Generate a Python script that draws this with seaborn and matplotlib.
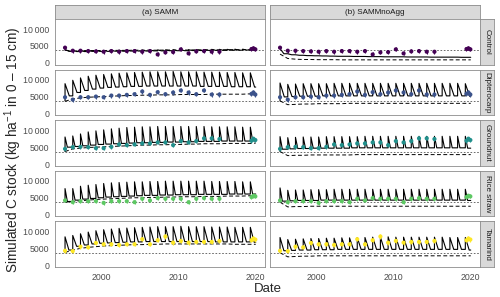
import matplotlib
matplotlib.use('Agg')
import matplotlib.pyplot as plt
import seaborn as sns
import pandas as pd

# Facet labels and colours
treatments = ['Control', 'Dipterocarp', 'Groundnut', 'Rice straw', 'Tamarind']
models = ['(a) SAMM', '(b) SAMMnoAgg']
colors = ['#440154', '#3B528B', '#21908C', '#5DC863', '#FDE725']

# Amendment dates and observation dates
amend_years = list(range(1995, 2020))
obs_years = list(range(1995, 2016))
cluster_dates = [2019.45, 2019.7, 2019.95]
end_date = 2020.0
initial_c = 3700

# Observed C stocks (same for both models)
obs_control = [4500, 3600, 3600, 3500, 3400, 3300, 3500, 3300, 3500, 3500, 3300,
               3500, 2500, 3100, 3200, 4000, 2800, 3400, 3500, 3300, 3300]
obs_dipterocarp = [4800, 4100, 4800, 4800, 5000, 4800, 5300, 5300, 5500, 5700, 6500,
                   5500, 6300, 5700, 6200, 6800, 6200, 5700, 6800, 5600, 5600]
obs_groundnut = [4500, 5000, 5100, 5000, 4700, 4700, 5100, 5800, 5600, 5800, 6100,
                 6100, 6400, 6400, 5600, 6800, 6400, 6800, 7600, 7600, 7400]
obs_rice = [4200, 3700, 4000, 4000, 4000, 3500, 4000, 4000, 4000, 3700, 4700,
            4200, 4900, 4700, 4700, 4700, 3700, 4700, 4900, 4700, 4700]
obs_tamarind = [4300, 4200, 5500, 5300, 6600, 6200, 6200, 6000, 6200, 6200, 7700,
                6200, 7400, 8500, 6700, 7200, 6700, 6900, 6900, 6900, 7200]
cluster_control = [4100, 4300, 4000]
cluster_dipterocarp = [5800, 6200, 5600]
cluster_groundnut = [6900, 7500, 7100]
cluster_rice = [5200, 5600, 5400]
cluster_tamarind = [7400, 7900, 7600]
obs_err = 600

# SAMM simulations: peaks after amendment, lows before each amendment (+ end), pool (dashed)
samm_control_high = [4000, 3700, 3650, 3650, 3700, 3700, 3700, 3750, 3750, 3800, 3800, 3800, 3850,
                     3850, 3900, 3900, 3900, 3950, 3950, 4000, 4000, 4000, 4050, 4050, 4100]
samm_control_low = [3700, 3400, 3350, 3350, 3400, 3400, 3400, 3450, 3450, 3500, 3500, 3500, 3550,
                    3550, 3600, 3600, 3600, 3650, 3650, 3700, 3700, 3700, 3750, 3750, 3800, 3800]
samm_control_dash = [3700, 3600, 3600, 3650, 3650, 3650, 3700, 3700, 3700, 3750, 3750, 3750, 3750,
                     3800, 3800, 3800, 3800, 3850, 3850, 3850, 3850, 3900, 3900, 3900, 3900, 3950]

samm_dipt_high = [8800, 9800, 10500, 11000, 11300, 11500, 11700, 11900, 12000, 12100, 12200, 12300, 12300,
                  12300, 12400, 12300, 12300, 12300, 12200, 12200, 12200, 12100, 12100, 12000, 12000]
samm_dipt_low = [3700, 5200, 6200, 6800, 7200, 7500, 7700, 7800, 7900, 8000, 8000, 8100, 8100,
                 8100, 8100, 8100, 8100, 8100, 8000, 8000, 8000, 8000, 7900, 7900, 7900, 7800]
samm_dipt_dash = [3600, 4300, 4600, 4800, 4900, 5000, 5100, 5200, 5300, 5300, 5400, 5400, 5500,
                  5500, 5500, 5600, 5600, 5600, 5600, 5700, 5700, 5700, 5700, 5700, 5800, 5800]

samm_gnut_high = [8000, 8300, 8900, 9500, 9800, 10100, 10400, 10600, 10800, 10900, 11000, 11000, 11100,
                  11100, 11100, 11100, 11100, 11100, 11100, 11000, 11000, 11000, 11000, 10900, 10900]
samm_gnut_low = [3700, 5000, 5200, 5400, 5600, 5800, 5900, 6000, 6100, 6200, 6300, 6300, 6400,
                 6400, 6500, 6500, 6600, 6600, 6700, 6700, 6700, 6800, 6800, 6800, 6800, 6900]
samm_gnut_dash = [3700, 4500, 4700, 4900, 5000, 5100, 5200, 5300, 5400, 5500, 5600, 5600, 5700,
                  5700, 5800, 5800, 5900, 5900, 6000, 6000, 6000, 6100, 6100, 6100, 6100, 6200]

samm_rice_high = [7700, 7700, 8400, 8700, 8900, 9200, 9400, 9500, 9600, 9700, 9700, 9800, 9800,
                  9900, 9900, 9900, 9900, 9900, 9900, 9800, 9800, 9800, 9800, 9700, 9700]
samm_rice_low = [3700, 3900, 4300, 4600, 4800, 5000, 5200, 5300, 5400, 5500, 5600, 5700, 5700,
                 5800, 5800, 5900, 5900, 5900, 6000, 6000, 6000, 6000, 6100, 6100, 6100, 6100]
samm_rice_dash = [3700, 3900, 4100, 4300, 4500, 4600, 4700, 4800, 4900, 5000, 5000, 5100, 5100,
                  5200, 5200, 5300, 5300, 5300, 5400, 5400, 5400, 5500, 5500, 5500, 5600, 5600]

samm_tam_high = [8400, 8800, 9300, 9800, 10200, 10500, 10700, 10900, 11000, 11100, 11200, 11300, 11400,
                 11400, 11400, 11500, 11400, 11400, 11400, 11300, 11300, 11300, 11200, 11200, 11200]
samm_tam_low = [3700, 4500, 5600, 6000, 6300, 6500, 6600, 6700, 6800, 6900, 6900, 7000, 7000,
                7000, 7000, 7000, 7000, 7000, 7000, 7000, 6900, 6900, 6900, 6900, 6900, 6800]
samm_tam_dash = [3800, 4500, 5000, 5300, 5500, 5700, 5800, 5900, 6000, 6100, 6100, 6200, 6200,
                 6300, 6300, 6300, 6300, 6300, 6300, 6300, 6300, 6300, 6200, 6200, 6200, 6200]

# SAMMnoAgg simulations
noagg_control_low = [4200, 2700, 2400, 2250, 2150, 2100, 2050, 2000, 1950, 1950, 1900, 1900, 1850,
                     1850, 1800, 1800, 1800, 1750, 1750, 1750, 1700, 1700, 1700, 1700, 1650, 1650]
noagg_control_high = noagg_control_low[:25]
noagg_control_dash = [2600, 1300, 1100, 1000, 1000, 950, 950, 950, 900, 900, 900, 900, 900,
                      900, 900, 900, 900, 900, 900, 900, 900, 900, 900, 900, 900, 900]

noagg_dipt_high = [9000, 8600, 8700, 8800, 8800, 8800, 8800, 8900, 8900, 8900, 8900, 8900, 8900,
                   8900, 8900, 8900, 8900, 8900, 8900, 8900, 8900, 8900, 8900, 8900, 8800]
noagg_dipt_low = [3700, 4900, 5000, 5100, 5100, 5100, 5200, 5200, 5200, 5200, 5200, 5200, 5200,
                  5200, 5200, 5200, 5200, 5200, 5200, 5200, 5200, 5200, 5200, 5200, 5200, 5100]
noagg_dipt_dash = [3700, 2600, 2700, 2800, 2800, 2900, 2900, 2900, 2900, 3000, 3000, 3000, 3000,
                   3000, 3000, 3000, 3000, 3000, 3000, 3000, 3000, 3000, 3000, 3000, 3000, 3000]

noagg_gnut_high = [8100, 7800, 7900, 8000, 8000, 8000, 8100, 8100, 8100, 8100, 8100, 8200, 8200,
                   8200, 8200, 8200, 8200, 8200, 8200, 8200, 8200, 8200, 8200, 8200, 8200]
noagg_gnut_low = [3700, 4400, 4500, 4600, 4600, 4700, 4700, 4700, 4700, 4700, 4800, 4800, 4800,
                  4800, 4800, 4800, 4800, 4800, 4800, 4800, 4800, 4800, 4800, 4800, 4800, 4700]
noagg_gnut_dash = [3700, 2500, 2600, 2600, 2700, 2700, 2700, 2700, 2700, 2700, 2800, 2800, 2800,
                   2800, 2800, 2800, 2800, 2800, 2800, 2800, 2800, 2800, 2800, 2800, 2800, 2800]

noagg_rice_high = [7900, 7200, 7300, 7300, 7400, 7400, 7400, 7500, 7500, 7500, 7500, 7500, 7500,
                   7500, 7500, 7500, 7500, 7500, 7500, 7500, 7500, 7500, 7500, 7500, 7500]
noagg_rice_low = [3700, 4000, 4100, 4200, 4200, 4200, 4300, 4300, 4300, 4300, 4300, 4300, 4300,
                  4300, 4300, 4300, 4300, 4300, 4300, 4300, 4300, 4300, 4300, 4300, 4300, 4200]
noagg_rice_dash = [3700, 2300, 2400, 2400, 2500, 2500, 2500, 2500, 2500, 2500, 2500, 2500, 2500,
                   2500, 2500, 2500, 2500, 2500, 2500, 2500, 2500, 2500, 2500, 2500, 2500, 2500]

noagg_tam_high = [8200, 7600, 7700, 7800, 7900, 7900, 8000, 8000, 8100, 8100, 8200, 8200, 8300,
                  8300, 8400, 8300, 8300, 8300, 8300, 8300, 8300, 8300, 8200, 8200, 8200]
noagg_tam_low = [3700, 4300, 4400, 4500, 4500, 4600, 4600, 4600, 4700, 4700, 4700, 4700, 4700,
                 4700, 4700, 4700, 4700, 4700, 4700, 4700, 4700, 4700, 4700, 4700, 4700, 4500]
noagg_tam_dash = [3700, 2500, 2600, 2700, 2700, 2800, 2800, 2800, 2800, 2800, 2800, 2800, 2800,
                  2800, 2800, 2800, 2800, 2800, 2800, 2800, 2800, 2800, 2800, 2800, 2800, 2800]

obs = [obs_control, obs_dipterocarp, obs_groundnut, obs_rice, obs_tamarind]
clusters = [cluster_control, cluster_dipterocarp, cluster_groundnut, cluster_rice, cluster_tamarind]
sims = {
    0: [(samm_control_high, samm_control_low, samm_control_dash),
        (samm_dipt_high, samm_dipt_low, samm_dipt_dash),
        (samm_gnut_high, samm_gnut_low, samm_gnut_dash),
        (samm_rice_high, samm_rice_low, samm_rice_dash),
        (samm_tam_high, samm_tam_low, samm_tam_dash)],
    1: [(noagg_control_high, noagg_control_low, noagg_control_dash),
        (noagg_dipt_high, noagg_dipt_low, noagg_dipt_dash),
        (noagg_gnut_high, noagg_gnut_low, noagg_gnut_dash),
        (noagg_rice_high, noagg_rice_low, noagg_rice_dash),
        (noagg_tam_high, noagg_tam_low, noagg_tam_dash)],
}
# time (years) taken by the fast part of the post-amendment decay, per treatment
decay_time = [0.5, 0.55, 0.3, 0.3, 0.5]

sns.set_theme(style='white')
plt.rcParams['font.family'] = ['Liberation Sans', 'DejaVu Sans']
plt.rcParams['mathtext.fontset'] = 'custom'
plt.rcParams['mathtext.rm'] = 'Liberation Sans'
plt.rcParams['mathtext.it'] = 'Liberation Sans'

W, H = 500, 297
fig = plt.figure(figsize=(W / 100, H / 100), dpi=100)

def frac(x, y, w, h):
    return [x / W, 1 - (y + h) / H, w / W, h / H]

border = '#8C8C8C'
col_x = [55, 270]
pw = 210
ph = 45.6
row_top = [19 + i * 50.6 for i in range(5)]
amend_dates = [y + 0.3 for y in amend_years]
obs_dates = [y + 0.3 for y in obs_years]

for c in range(2):
    # top strip
    sax = fig.add_axes(frac(col_x[c], 5, pw, 14))
    sax.set_facecolor('#D9D9D9')
    sax.set_xticks([]); sax.set_yticks([])
    for s in sax.spines.values():
        s.set_color(border); s.set_linewidth(0.6)
    sax.text(0.5, 0.5, models[c], ha='center', va='center', fontsize=5.8, color='#1A1A1A')

    for r in range(5):
        ax = fig.add_axes(frac(col_x[c], row_top[r], pw, ph))
        high, low, dash = sims[c][r]

        # vertical jump at amendment, fast decay, then level to the next low
        xs, ys = [], []
        for k, t in enumerate(amend_dates):
            xs += [t, t, t + decay_time[r]]
            ys += [low[k], high[k], low[k + 1]]
        xs.append(end_date); ys.append(low[25])
        solid_df = pd.DataFrame({'date': xs, 'c': ys})
        dash_df = pd.DataFrame({'date': amend_dates + [end_date], 'c': dash})

        ax.axhline(initial_c, color='#555555', lw=0.6, ls=(0, (2, 2)), zorder=1)
        sns.lineplot(data=dash_df, x='date', y='c', color='black', lw=0.7,
                     linestyle=(0, (4, 2.5)), sort=False, estimator=None, ax=ax, zorder=2)
        sns.lineplot(data=solid_df, x='date', y='c', color='black', lw=0.8,
                     sort=False, estimator=None, ax=ax, zorder=3)

        od = obs_dates + cluster_dates
        ov = obs[r] + clusters[r]
        obs_df = pd.DataFrame({'date': od, 'c': ov})
        ax.vlines(od, [v - obs_err for v in ov], [v + obs_err for v in ov],
                  color=colors[r], lw=0.8, zorder=4)
        sns.scatterplot(data=obs_df, x='date', y='c', color=colors[r], s=9,
                        edgecolor='none', ax=ax, zorder=5)

        ax.set_xlim(1994.0, 2021.2)
        ax.set_ylim(-500, 12950)
        ax.set_xlabel(''); ax.set_ylabel('')
        ax.set_facecolor('white')
        for s in ax.spines.values():
            s.set_color(border); s.set_linewidth(0.6)
        ax.set_xticks([2000, 2010, 2020])
        ax.set_yticks([0, 5000, 10000])
        ax.tick_params(length=2.5, width=0.5, color='#4D4D4D', labelsize=6.3,
                       labelcolor='#4D4D4D', pad=1.5)
        if c == 0:
            ax.set_yticklabels(['0', '5000', '10\u2009000'])
        else:
            ax.tick_params(axis='y', left=False, labelleft=False)
        if r == 4:
            ax.set_xticklabels(['2000', '2010', '2020'])
        else:
            ax.tick_params(axis='x', bottom=False, labelbottom=False)

        if c == 1:
            rax = fig.add_axes(frac(col_x[1] + pw, row_top[r], 14, ph))
            rax.set_facecolor('#D9D9D9')
            rax.set_xticks([]); rax.set_yticks([])
            for s in rax.spines.values():
                s.set_color(border); s.set_linewidth(0.6)
            rax.text(0.5, 0.5, treatments[r], ha='center', va='center', rotation=-90,
                     fontsize=5.8, color='#1A1A1A')

fig.text(0.026, 1 - 150 / H, 'Simulated C stock (kg ha$^{-1}$ in 0 \u2013 15 cm)',
         rotation=90, ha='center', va='center', fontsize=9.8)
fig.text(0.535, 1 - 289 / H, 'Date', ha='center', va='center', fontsize=9.5)

fig.savefig('out.png', dpi=100)
